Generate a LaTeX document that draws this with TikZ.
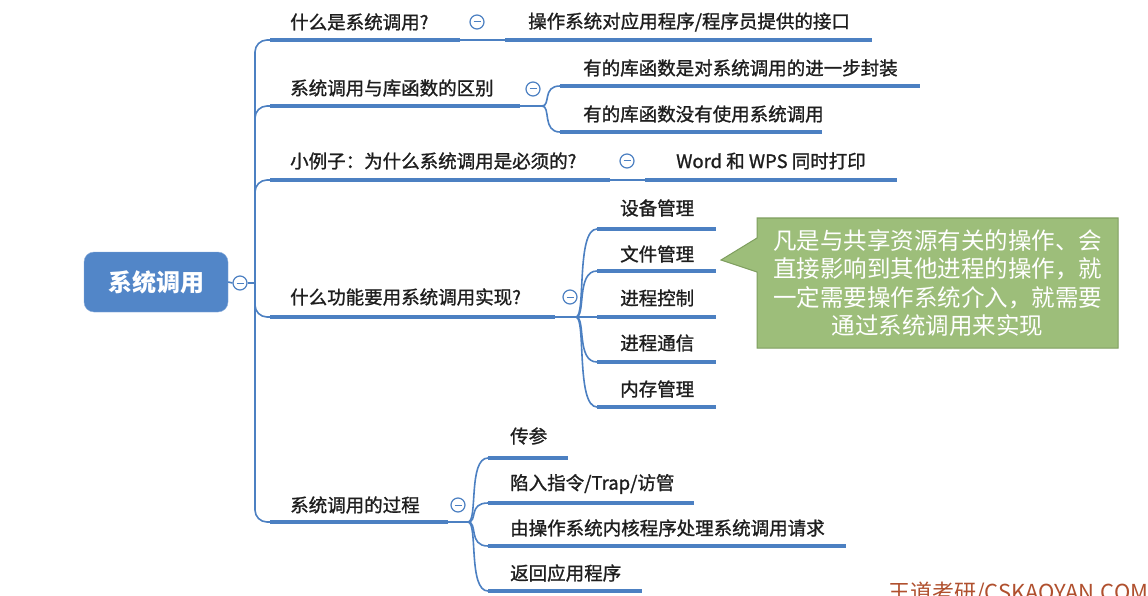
\documentclass[tikz,border=0pt]{standalone}
\usepackage{fontspec}
\setmainfont{Noto Sans CJK SC}
\newfontfamily\lblfont{Noto Sans CJK SC}[FakeBold=1.2]
\definecolor{lineblue}{HTML}{4C80C2}
\definecolor{rootblue}{HTML}{5286C8}
\definecolor{calloutgreen}{HTML}{9DBE7A}
\definecolor{calloutedge}{HTML}{7E9E5E}
\definecolor{wmred}{HTML}{B0502E}
\definecolor{txt}{HTML}{1E1E1E}
\begin{document}
\begin{tikzpicture}[x=1pt,y=-1pt,
  conn/.style={draw=lineblue, line width=1.6pt},
  ul/.style={draw=lineblue, line width=4.5pt},
  lbl/.style={anchor=west, inner sep=0pt, font=\lblfont\fontsize{18.5}{22}\selectfont, text=txt},
  col/.style={circle, draw=lineblue, fill=white, line width=1.2pt, minimum size=14pt, inner sep=0pt,
    path picture={\draw[lineblue, line width=1pt] ([xshift=-3.5pt]path picture bounding box.center) -- ([xshift=3.5pt]path picture bounding box.center);}},
]
\useasboundingbox (0,0) rectangle (1148,596);
\fill[white] (0,0) rectangle (1148,596);

% root
\node[draw=rootblue!70!white, fill=rootblue, rounded corners=10pt, minimum width=144pt, minimum height=60pt,
  text=white, font=\bfseries\fontsize{24}{28}\selectfont] (root) at (156,282) {系统调用};
\node[col] (c0) at (240,283) {};
\coordinate (j0) at (255,283);
\draw[conn] (root.east) -- (c0.west);
\draw[conn] (c0.east) -- (j0);

% level 1 underline coordinates
\coordinate (a1) at (270,40);  \coordinate (b1) at (460,40);
\coordinate (a2) at (270,106); \coordinate (b2) at (520,106);
\coordinate (a3) at (270,180); \coordinate (b3) at (610,180);
\coordinate (a4) at (270,317); \coordinate (b4) at (555,317);
\coordinate (a5) at (270,522); \coordinate (b5) at (448,522);

\foreach \i in {1,...,5} {
  \draw[conn, rounded corners=12pt] (j0) |- (a\i);
  \draw[ul] (a\i) -- (b\i);
}

\node[lbl] (t1) at (290,22) {什么是系统调用?};
\node[lbl] (t2) at (290,88) {系统调用与库函数的区别};
\node[lbl] (t3) at (290,161) {小例子：为什么系统调用是必须的?};
\node[lbl] (t4) at (290,297) {什么功能要用系统调用实现?};
\node[lbl] (t5) at (290,505) {系统调用的过程};

\node[col] (c1) at (477,22) {};
\node[col] (c2) at (533,89) {};
\node[col] (c3) at (627,161) {};
\node[col] (c4) at (570,297) {};
\node[col] (c5) at (458,505) {};

% branch 1
\coordinate (a11) at (505,40); \coordinate (b11) at (872,40);
\draw[conn] (b1) -- (a11);
\draw[ul] (a11) -- (b11);
\node[lbl] (t11) at (528,22) {操作系统对应用程序/程序员提供的接口};

% branch 2
\coordinate (j2) at (542,106);
\coordinate (a21) at (560,86);  \coordinate (b21) at (920,86);
\coordinate (a22) at (560,132); \coordinate (b22) at (822,132);
\draw[conn] (b2) -- (j2);
\foreach \k in {1,2} {
  \draw[conn] (j2) .. controls ([xshift=9pt]j2) and (j2 |- a2\k) .. (a2\k);
  \draw[ul] (a2\k) -- (b2\k);
}
\node[lbl] (t21) at (583,68) {有的库函数是对系统调用的进一步封装};
\node[lbl] (t22) at (583,114) {有的库函数没有使用系统调用};

% branch 3
\coordinate (a31) at (645,180); \coordinate (b31) at (897,180);
\draw[conn] (b3) -- (a31);
\draw[ul] (a31) -- (b31);
\node[lbl] (t31) at (676,161) {Word 和 WPS 同时打印};

% branch 4
\coordinate (j4) at (576,317);
\coordinate (a41) at (597,229); \coordinate (b41) at (716,229);
\coordinate (a42) at (597,271); \coordinate (b42) at (716,271);
\coordinate (a43) at (597,317); \coordinate (b43) at (716,317);
\coordinate (a44) at (597,362); \coordinate (b44) at (716,362);
\coordinate (a45) at (597,407); \coordinate (b45) at (716,407);
\draw[conn] (b4) -- (j4);
\foreach \k in {1,...,5} {
  \draw[conn] (j4) .. controls ([xshift=10pt]j4) and (j4 |- a4\k) .. (a4\k);
  \draw[ul] (a4\k) -- (b4\k);
}
\node[lbl] (t41) at (620,208) {设备管理};
\node[lbl] (t42) at (620,254) {文件管理};
\node[lbl] (t43) at (620,298) {进程控制};
\node[lbl] (t44) at (620,343) {进程通信};
\node[lbl] (t45) at (620,389) {内存管理};

% branch 5
\coordinate (j5) at (468,522);
\coordinate (a51) at (488,458); \coordinate (b51) at (568,458);
\coordinate (a52) at (488,503); \coordinate (b52) at (694,503);
\coordinate (a53) at (488,546); \coordinate (b53) at (846,546);
\coordinate (a54) at (488,591); \coordinate (b54) at (642,591);
\draw[conn] (b5) -- (j5);
\foreach \k in {1,...,4} {
  \draw[conn] (j5) .. controls ([xshift=10pt]j5) and (j5 |- a5\k) .. (a5\k);
  \draw[ul] (a5\k) -- (b5\k);
}
\node[lbl] (t51) at (510,436) {传参};
\node[lbl] (t52) at (510,484) {陷入指令/Trap/访管};
\node[lbl] (t53) at (510,528) {由操作系统内核程序处理系统调用请求};
\node[lbl] (t54) at (510,573) {返回应用程序};

% callout
\coordinate (tip) at (721,260);
\draw[fill=calloutgreen, draw=calloutedge, line width=1pt]
  (757,218) -- (1118,218) -- (1118,348) -- (757,348) -- (757,272) -- (tip) -- (757,238) -- cycle;
\node[align=center, text=white, font=\fontsize{23.5}{28.5}\selectfont, inner sep=0pt] (cb) at (937.5,283)
  {凡是与共享资源有关的操作、会\\直接影响到其他进程的操作，就\\一定需要操作系统介入，就需要\\通过系统调用来实现};

% watermark
\node[anchor=north west, inner sep=0pt, text=wmred, font=\fontsize{22}{26}\selectfont] (wm) at (888,582) {王道考研/CSKAOYAN.COM};
\end{tikzpicture}
\end{document}
